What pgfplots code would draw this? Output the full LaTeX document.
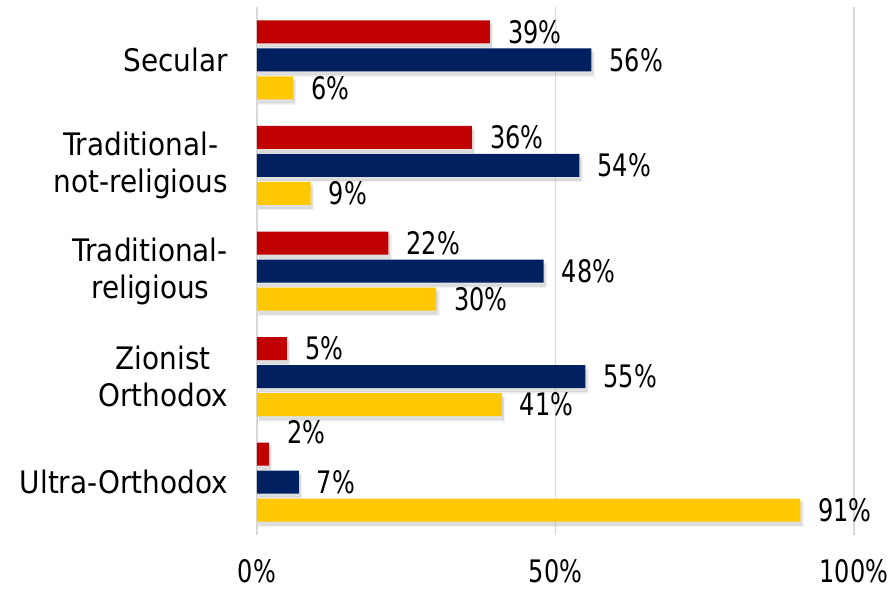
\documentclass[border=0pt]{standalone}
\usepackage{pgfplots}
\pgfplotsset{compat=1.18}
\usepackage{pgfplotstable}
\usepackage{fontspec}
\setmainfont{DejaVu Sans Condensed}
% narrower setting for the percentages
\newfontfamily\numfont[FakeStretch=0.86]{DejaVu Sans Condensed}

\definecolor{barred}{HTML}{C00000}
\definecolor{barnavy}{HTML}{002060}
\definecolor{baryellow}{HTML}{FFC800}
\definecolor{gridgray}{HTML}{D9D9D9}
\definecolor{shadowgray}{HTML}{9A9A9A}

% y: category index (0 = Secular ... 4 = Ultra-Orthodox), x: share in percent,
% dy: vertical nudge of the value label in pt
\pgfplotstableread{
y x dy
0 39 0
1 36 0
2 22 0
3 5 0
4 2 22
}\redtab
\pgfplotstableread{
y x dy
0 56 0
1 54 0
2 48 0
3 55 0
4 7 0
}\navytab
\pgfplotstableread{
y x dy
0 6 0
1 9 0
2 30 0
3 41 0
4 91 0
}\yellowtab

\pgfplotsset{
  barlabels/.style={
    nodes near coords={\pgfmathprintnumber{\pgfplotspointmeta}\%},
    point meta=x,
    visualization depends on={\thisrow{dy} \as \labdy},
    every node near coord/.append style={anchor=west, inner sep=0pt, xshift=18pt,
      yshift=\labdy pt, font=\fontsize{31}{37}\numfont, text=black},
  },
  % two soft layers give a blurred drop shadow
  barshadow/.style={draw=shadowgray, line width=3pt, draw opacity=0.12,
    fill=shadowgray, fill opacity=0.30, xshift=2pt, yshift=-4pt},
}

\begin{document}
\begin{tikzpicture}
\fontsize{31}{37}\selectfont
\begin{axis}[
  at={(0pt,0pt)}, anchor=south west,
  scale only axis,
  width=597pt, height=528pt,
  xmin=0, xmax=100,
  ymin=-0.5, ymax=4.5,
  y dir=reverse,
  xbar,
  bar width=23pt,
  axis line style={draw=none},
  major tick length=0pt,
  xtick={0,50,100},
  xticklabels={0\%,50\%,100\%},
  xmajorgrids,
  grid style={line width=1.6pt, gridgray},
  ytick={0,1,2,3,4},
  yticklabels={Secular,Traditional-\\not-religious,Traditional-\\religious,Zionist\\Orthodox,Ultra-Orthodox},
  yticklabel style={align=center, inner sep=0pt, xshift=-29pt, font=\fontsize{31}{37}\selectfont},
  xticklabel style={inner sep=0pt, anchor=north, yshift=-24pt, font=\fontsize{31}{37}\numfont},
  /pgf/number format/assume math mode=true,
  clip=false,
]
% shadows beneath the bars
\addplot[barshadow, bar shift=28pt] table[x=x, y=y] {\redtab};
\addplot[barshadow, bar shift=0pt] table[x=x, y=y] {\navytab};
\addplot[barshadow, bar shift=-28pt] table[x=x, y=y] {\yellowtab};
% bars
\addplot[draw=none, fill=barred, bar shift=28pt, barlabels] table[x=x, y=y] {\redtab};
\addplot[draw=none, fill=barnavy, bar shift=0pt, barlabels] table[x=x, y=y] {\navytab};
\addplot[draw=none, fill=baryellow, bar shift=-28pt, barlabels] table[x=x, y=y] {\yellowtab};
\end{axis}
\pgfresetboundingbox
\path (-257pt,-55pt) rectangle (635pt,535pt);
\end{tikzpicture}
\end{document}
